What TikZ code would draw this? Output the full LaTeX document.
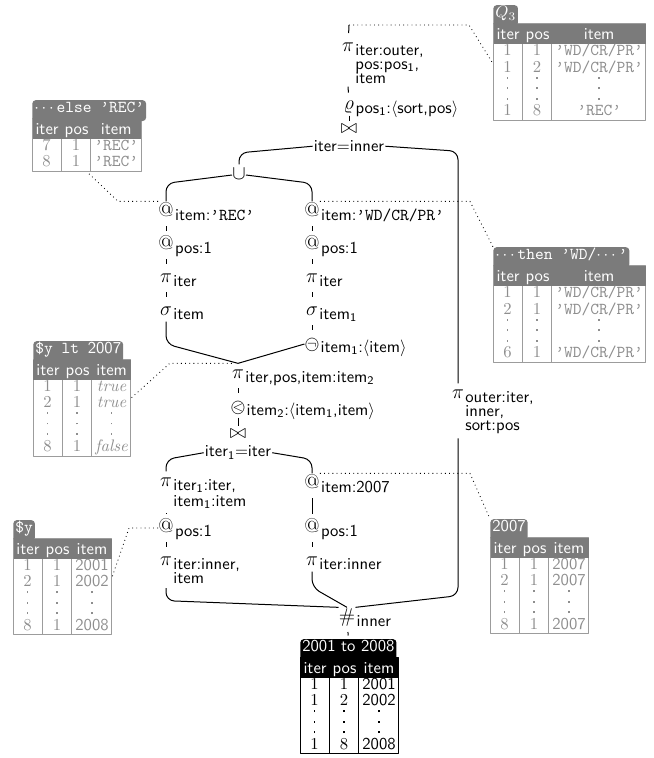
\documentclass[tikz,border=0pt]{standalone}
\usepackage{amsmath}
\usepackage{xcolor}
\usepackage{colortbl}
\usepackage{graphicx}
\usepackage{tikz}
\usetikzlibrary{positioning, calc}
\definecolor{hdgray}{HTML}{7B7B7B}
\definecolor{valgray}{HTML}{8E8E8E}
\definecolor{rulegray}{HTML}{9C9C9C}

\setlength{\tabcolsep}{1.8pt}
\setlength{\arrayrulewidth}{0.6pt}
\renewcommand{\arraystretch}{0.8}
\arrayrulecolor{rulegray}

\newcommand{\hd}[1]{\multicolumn{1}{c}{\rule{0pt}{9.5pt}\color{white}\sffamily #1}}
\newcommand{\dt}{\hbox{\vrule width 1pt height 1pt}}
\newcommand{\vd}{\vbox{\offinterlineskip\dt\kern5.3pt\dt\kern5.3pt\dt}}
\newcommand{\q}[1]{\texttt{\textquoteright#1\textquoteright}}
\newcommand{\circop}[1]{\scalebox{0.72}{\ooalign{$\bigcirc$\cr\hfil$#1$\hfil\cr}}}
\newcommand{\lines}[1]{\vtop{\baselineskip=8.6pt\lineskiplimit=-\maxdimen\halign{##\hfil\cr#1\crcr}}}

\begin{document}
\begin{tikzpicture}[x=0.6pt, y=-0.6pt, line join=round,
    op/.style={font=\large, inner xsep=0pt, inner ysep=1pt, text height=8pt, text depth=2.4pt},
    sub/.style={anchor=base west, inner sep=0.5pt, font=\sffamily, yshift=-4.8pt},
    pred/.style={inner sep=0.5pt, font=\sffamily},
    conn/.style={line width=0.6pt, rounded corners=5pt},
    stub/.style={conn, shorten <=2pt, shorten >=2pt},
    link/.style={dotted, line width=0.5pt},
    tbl/.style={draw=rulegray, line width=0.6pt, inner sep=0pt, anchor=north west, text=valgray},
    tab/.style={fill=hdgray, text=white, rounded corners=2pt, inner xsep=1.2pt, inner ysep=1pt,
        text height=6.5pt, text depth=4pt, anchor=south west}]
\useasboundingbox (0,0) rectangle (654,758);

% result and top of the plan
\coordinate (res) at (349,25);
\node[op, label={[sub, name=piOut-s]0:{\lines{iter:outer,\cr pos:pos\textsubscript{1},\cr item}}}] (piOut) at (348,47) {$\pi$};
\node[op, label={[sub]0:{pos\textsubscript{1}:$\langle$sort,pos$\rangle$}}] (rhoSort) at (349,105) {$\varrho$};
\node[op, text height=6.5pt, below=3pt of rhoSort] (joinTop) {$\bowtie$};
\node[pred, below=0pt of joinTop] (joinTopP) {iter=inner};
\node[op] (cupElse) at (239,175) {$\cup$};

% else branch
\node[op, label={[sub]0:{item:\q{REC}}}] (atRec) at (166,212) {@};
\node[op, below=7pt of atRec, label={[sub]0:{pos:1}}] (atRecPos) {@};
\node[op, below=7pt of atRecPos, label={[sub]0:{iter}}] (piRec) {$\pi$};
\node[op, below=7pt of piRec, label={[sub]0:{item}}] (selRec) {$\sigma$};

% then branch
\node[op, label={[sub]0:{item:\q{WD/CR/PR}}}] (atWd) at (312,212) {@};
\node[op, below=7pt of atWd, label={[sub]0:{pos:1}}] (atWdPos) {@};
\node[op, below=7pt of atWdPos, label={[sub]0:{iter}}] (piWd) {$\pi$};
\node[op, below=7pt of piWd, label={[sub]0:{item\textsubscript{1}}}] (selWd) {$\sigma$};
\node[op, below=7pt of selWd, label={[sub]0:{item\textsubscript{1}:$\langle$item$\rangle$}}] (notWd) {\circop{\neg}};

% condition
\node[op, label={[sub]0:{iter,pos,item:item\textsubscript{2}}}] (piCond) at (238,374) {$\pi$};
\node[op, below=7pt of piCond, label={[sub]0:{item\textsubscript{2}:$\langle$item\textsubscript{1},item$\rangle$}}] (ltCond) {\circop{<}};
\node[op, text height=6.5pt, below=5pt of ltCond] (joinY) {$\bowtie$};
\node[pred, below=0pt of joinY] (joinYP) {iter\textsubscript{1}=iter};

% $y and 2007
\node[op, label={[sub, name=piY-s]0:{\lines{iter\textsubscript{1}:iter,\cr\noalign{\kern1.2pt}item\textsubscript{1}:item}}}] (piY) at (166,482) {$\pi$};
\node[op, label={[sub]0:{pos:1}}] (atYPos) at (166,528) {@};
\node[op, below=7pt of atYPos, label={[sub, name=piYInner-s]0:{\lines{iter:inner,\cr item}}}] (piYInner) {$\pi$};
\node[op, label={[sub]0:{item:2007}}] (at2007) at (312,484) {@};
\node[op, label={[sub]0:{pos:1}}] (at2007Pos) at (at2007 |- atYPos) {@};
\node[op, below=7pt of at2007Pos, label={[sub]0:{iter:inner}}] (pi2007) {$\pi$};

% loop relation
\node[op, label={[sub, name=piOuter-s]0:{\lines{outer:iter,\cr inner,\cr sort:pos}}}] (piOuter) at (458,394) {$\pi$};
\node[op, label={[sub]0:{inner}}] (rowNum) at (347,618) {\#};

% tables
\node[tbl] (q3) at (493,23) {\begin{tabular}{c|c|c}
\rowcolor{hdgray}\hd{iter} & \hd{pos} & \hd{item}\\
1 & 1 & \q{WD/CR/PR}\\
1 & 2 & \q{WD/CR/PR}\\
\vd & \vd & \vd\\
1 & 8 & \q{REC}
\end{tabular}};
\node[tab] (q3Tab) at ([yshift=-2pt]q3.north west) {$Q_3$};

\node[tbl] (elseTbl) at (32,118) {\begin{tabular}{c|c|c}
\rowcolor{hdgray}\hd{iter} & \hd{pos} & \hd{item}\\
7 & 1 & \q{REC}\\
8 & 1 & \q{REC}
\end{tabular}};
\node[tab] (elseTab) at ([yshift=-2pt]elseTbl.north west) {$\cdots$\texttt{else \textquoteright REC\textquoteright}};

\node[tbl] (thenTbl) at (493,265) {\begin{tabular}{c|c|c}
\rowcolor{hdgray}\hd{iter} & \hd{pos} & \hd{item}\\
1 & 1 & \q{WD/CR/PR}\\
2 & 1 & \q{WD/CR/PR}\\
\vd & \vd & \vd\\
6 & 1 & \q{WD/CR/PR}
\end{tabular}};
\node[tab] (thenTab) at ([yshift=-2pt]thenTbl.north west) {$\cdots$\texttt{then \textquoteright WD/}$\cdots$\texttt{\textquoteright}};

\node[tbl] (ltTbl) at (33,359) {\begin{tabular}{c|c|c}
\rowcolor{hdgray}\hd{iter} & \hd{pos} & \hd{item}\\
1 & 1 & \textit{true}\\
2 & 1 & \textit{true}\\
\vd & \vd & \vd\\
8 & 1 & \textit{false}
\end{tabular}};
\node[tab] (ltTab) at ([yshift=-2pt]ltTbl.north west) {\texttt{\$y lt }\textsf{2007}};

\node[tbl] (yTbl) at (13,538) {\begin{tabular}{c|c|c}
\rowcolor{hdgray}\hd{iter} & \hd{pos} & \hd{item}\\
1 & 1 & \textsf{2001}\\
2 & 1 & \textsf{2002}\\
\vd & \vd & \vd\\
8 & 1 & \textsf{2008}
\end{tabular}};
\node[tab] (yTab) at ([yshift=-2pt]yTbl.north west) {\texttt{\$y}};

\node[tbl] (y2007Tbl) at (490,537) {\begin{tabular}{c|c|c}
\rowcolor{hdgray}\hd{iter} & \hd{pos} & \hd{item}\\
1 & 1 & \textsf{2007}\\
2 & 1 & \textsf{2007}\\
\vd & \vd & \vd\\
8 & 1 & \textsf{2007}
\end{tabular}};
\node[tab] (y2007Tab) at ([yshift=-2pt]y2007Tbl.north west) {\textsf{2007}};

\node[tbl, draw=black, text=black] (rangeTbl) at (300,657) {\arrayrulecolor{black}\begin{tabular}{c|c|c}
\rowcolor{black}\hd{iter} & \hd{pos} & \hd{item}\\
1 & 1 & \textsf{2001}\\
1 & 2 & \textsf{2002}\\
\vd & \vd & \vd\\
1 & 8 & \textsf{2008}
\end{tabular}};
\node[tab, fill=black] (rangeTab) at ([yshift=-2pt]rangeTbl.north west) {\textsf{2001 to 2008}};

% plan edges
\draw[conn, shorten >=2pt] (res) -- (piOut);
\draw[conn, shorten <=1pt, shorten >=1pt] (piOut |- piOut-s.south) -- (rhoSort);
\draw[conn] (rhoSort) -- (joinTop);
\draw[conn] (joinTopP.west) -- ($(joinTopP.west -| cupElse)+(0,-4pt)$) -- (cupElse);
\draw[conn] (joinTopP.east) -- ($(joinTopP.east -| piOuter)+(0,-3pt)$) -- (piOuter);
\draw[conn] (cupElse.west) -- ($(cupElse.west -| atRec)+(0,-5pt)$) -- (atRec);
\draw[conn] (cupElse.east) -- ($(cupElse.east -| atWd)+(0,-5pt)$) -- (atWd);
\draw[stub] (atRec) -- (atRecPos);
\draw[stub] (atRecPos) -- (piRec);
\draw[stub] (piRec) -- (selRec);
\draw[stub] (atWd) -- (atWdPos);
\draw[stub] (atWdPos) -- (piWd);
\draw[stub] (piWd) -- (selWd);
\draw[stub] (selWd) -- (notWd);
\draw[conn] (selRec) -- (selRec |- notWd) -- (piCond.north);
\draw[conn] (notWd.west) -- (piCond.north);
\draw[stub] (piCond) -- (ltCond);
\draw[conn] (ltCond) -- (joinY);
\draw[conn] (joinYP.west) -- ($(joinYP.west -| piY)+(0,-4pt)$) -- (piY);
\draw[conn] (joinYP.east) -- ($(joinYP.east -| at2007)+(0,-4pt)$) -- (at2007);
\draw[stub] (piY |- piY-s.south) -- (atYPos);
\draw[stub] (atYPos) -- (piYInner);
\draw[stub] (at2007) -- (at2007Pos);
\draw[stub] (at2007Pos) -- (pi2007);
\draw[conn, shorten <=2pt] (piYInner |- piYInner-s.south) -- ($(rowNum.north west -| piYInner)+(0,4pt)$) -- (rowNum.north west);
\draw[conn] (pi2007) -- ($(rowNum.north -| pi2007)+(0,12pt)$) -- (rowNum.north);
\draw[conn, shorten <=2pt] (piOuter |- piOuter-s.south) -- ($(rowNum.north east -| piOuter)+(0,7pt)$) -- (rowNum.north east);
\draw[stub] (rowNum) -- (rangeTab.north);

% table links
\draw[link] (res) -- ++(120,0) -- ([yshift=5pt]q3.west);
\draw[link] (atRec.north west) -- ++(-40,0) -- (elseTbl.south);
\draw[link] (atWd.north east) -- ++(150,0) -- (thenTab.north west);
\draw[link] (piCond.north west) -- ++(-62,0) -- ([yshift=6pt]ltTbl.east);
\draw[link] (atYPos.west) -- ++(-29,0) -- ([yshift=6pt]yTbl.east);
\draw[link] (at2007.north east) -- ++(150,0) -- (y2007Tab.north west);
\end{tikzpicture}
\end{document}
